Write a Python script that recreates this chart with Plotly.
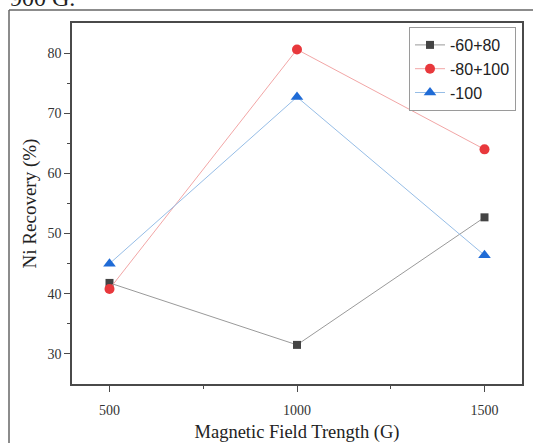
import plotly.graph_objects as go

field = [500, 1000, 1500]
s1_name = "-60+80"
s1 = [41.8, 31.5, 52.7]
s2_name = "-80+100"
s2 = [40.8, 80.6, 64.0]
s3_name = "-100"
s3 = [45.0, 72.7, 46.4]

W, H = 533, 443
L, R, T, B = 72, 11, 23, 59
PW, PH = W - L - R, H - T - B


def px_x(p):
    return (p - L) / PW


def px_y(p):
    return (H - B - p) / PH


fig = go.Figure()
fig.add_trace(go.Scatter(x=field, y=s1, name=s1_name, mode="lines+markers",
                         line=dict(color="#9a9a9a", width=1),
                         marker=dict(symbol="square", size=8, color="#444444")))
fig.add_trace(go.Scatter(x=field, y=s2, name=s2_name, mode="lines+markers",
                         line=dict(color="#f2a6a6", width=1),
                         marker=dict(symbol="circle", size=10, color="#e8383c")))
fig.add_trace(go.Scatter(x=field, y=s3, name=s3_name, mode="lines+markers",
                         line=dict(color="#96bde6", width=1),
                         marker=dict(symbol="triangle-up", size=11, color="#1f6bd6")))

axis_common = dict(showgrid=False, zeroline=False, showline=True, linecolor="#4a4a4a",
                   linewidth=1.5, mirror=True, ticks="outside", tickcolor="#4a4a4a",
                   tickwidth=1.3, automargin=False,
                   tickfont=dict(family="Liberation Serif", size=14, color="#333333"))

fig.update_xaxes(range=[400, 1600], tickvals=[500, 1000, 1500], ticklen=6,
                 ticklabelstandoff=6,
                 minor=dict(tickvals=[750, 1250], ticklen=3, tickcolor="#4a4a4a", ticks="outside"),
                 title=dict(text="Magnetic Field Trength (G)", standoff=10,
                            font=dict(family="Liberation Serif", size=18.5, color="#222222")),
                 **axis_common)
fig.update_yaxes(range=[25, 85], tickvals=[30, 40, 50, 60, 70, 80], ticklen=6,
                 minor=dict(tickvals=[35, 45, 55, 65, 75], ticklen=3, tickcolor="#4a4a4a", ticks="outside"),
                 title=dict(text="Ni Recovery (%)", standoff=6,
                            font=dict(family="Liberation Serif", size=19, color="#222222")),
                 **axis_common)

fig.update_layout(
    width=W, height=H,
    margin=dict(l=L, r=R, t=T, b=B, autoexpand=False),
    paper_bgcolor="white", plot_bgcolor="white",
    showlegend=True,
    legend=dict(x=px_x(409), y=px_y(27),
                xanchor="left", yanchor="top",
                bordercolor="#9a9a9a", borderwidth=1, bgcolor="white",
                font=dict(family="Liberation Sans", size=16, color="#222222"),
                tracegroupgap=0, itemwidth=30),
)

# outer figure frame (partially cropped) and cut-off caption text above
fig.add_shape(type="line", xref="paper", yref="paper", x0=px_x(9), x1=px_x(9),
              y0=px_y(H + 5), y1=px_y(10),
              line=dict(color="#666666", width=1.5))
fig.add_shape(type="line", xref="paper", yref="paper", x0=px_x(9), x1=px_x(W + 5),
              y0=px_y(10), y1=px_y(10),
              line=dict(color="#666666", width=1.5))
fig.add_annotation(text="900 G.", xref="paper", yref="paper",
                   x=px_x(8), y=px_y(-2),
                   xanchor="left", yanchor="middle", showarrow=False,
                   font=dict(family="Liberation Serif", size=24, color="#222222"))

fig.write_html("out.html")
